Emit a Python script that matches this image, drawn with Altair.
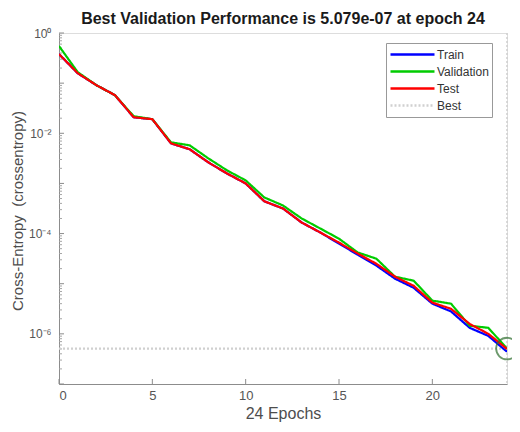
import altair as alt
import pandas as pd

epochs = list(range(25))
train = [0.38, 0.158, 0.0912, 0.0575, 0.0209, 0.0191, 6.3e-3, 4.8e-3, 2.63e-3, 1.58e-3,
         1.0e-3, 4.4e-4, 3.16e-4, 1.66e-4, 1.05e-4, 6.3e-5, 3.8e-5, 2.3e-5, 1.26e-5, 8.3e-6,
         4.0e-6, 2.8e-6, 1.32e-6, 9.1e-7, 4.4e-7]
validation = [0.55, 0.166, 0.0912, 0.0575, 0.0219, 0.0191, 6.6e-3, 5.75e-3, 3.16e-3, 1.82e-3,
              1.15e-3, 5.25e-4, 3.63e-4, 2.0e-4, 1.26e-4, 7.9e-5, 4.2e-5, 3.16e-5, 1.38e-5, 1.15e-5,
              4.6e-6, 4.0e-6, 1.45e-6, 1.32e-6, 5.079e-7]
test = [0.38, 0.158, 0.0912, 0.0575, 0.0209, 0.0191, 6.3e-3, 4.8e-3, 2.63e-3, 1.58e-3,
        1.0e-3, 4.4e-4, 3.16e-4, 1.66e-4, 1.05e-4, 6.6e-5, 4.0e-5, 2.5e-5, 1.38e-5, 9.1e-6,
        4.2e-6, 3.16e-6, 1.58e-6, 1.0e-6, 5.0e-7]
best_epoch = 24
best_value = 5.079e-07

series_names = ["Train", "Validation", "Test", "Best"]
series_colors = ["#0000FF", "#00CC00", "#FF0000", "#D0D0D0"]
series_dash = [[1, 0], [1, 0], [1, 0], [2, 2]]

x_ticks = [0, 5, 10, 15, 20]
y_major = [1e0, 1e-1, 1e-2, 1e-3, 1e-4, 1e-5, 1e-6, 1e-7]
y_minor = [k * m for m in y_major[1:] for k in range(2, 10)]
y_labels = [1e0, 1e-2, 1e-4, 1e-6]

W, H = 448, 351
FONT = "Liberation Sans"

rows = [{"epoch": best_epoch - 24, "value": best_value, "series": "Best"},
        {"epoch": best_epoch, "value": best_value, "series": "Best"}]
for name, vals in (("Train", train), ("Validation", validation), ("Test", test)):
    for e, v in zip(epochs, vals):
        rows.append({"epoch": e, "value": v, "series": name})
df = pd.DataFrame(rows)

xscale = alt.Scale(domain=[0, 24], nice=False, zero=False)
yscale = alt.Scale(type="log", domain=[1e-7, 1], nice=False)

x_axis = alt.Axis(values=x_ticks, title="24 Epochs", grid=False, ticks=False,
                  labelPadding=5, labelFontSize=13, labelColor="#555555",
                  domainColor="#8c8c8c", titleFontSize=16, titleFontWeight="normal",
                  titleColor="#4d4d4d", titleY=29, titleBaseline="middle",
                  labelFont=FONT, titleFont=FONT)
y_axis = alt.Axis(values=y_labels, title="Cross-Entropy\u00a0 (crossentropy)", grid=False,
                  ticks=False, labelPadding=8, labelFontSize=12, labelColor="#555555",
                  domainColor="#8c8c8c", titleFontSize=15, titleFontWeight="normal",
                  titleColor="#4d4d4d", titleX=-42, titleY=H / 2 + 2, titleBaseline="middle",
                  labelFont=FONT, titleFont=FONT,
                  labelExpr="'10' + (datum.value > 0.5 ? '⁰' : datum.value > 1e-3 ? '⁻²' : datum.value > 1e-5 ? '⁻⁴' : '⁻⁶')")

lines = alt.Chart(df).mark_line(strokeWidth=2.2, clip=True).encode(
    x=alt.X("epoch:Q", scale=xscale, axis=x_axis),
    y=alt.Y("value:Q", scale=yscale, axis=y_axis),
    color=alt.Color("series:N",
                    scale=alt.Scale(domain=series_names, range=series_colors),
                    legend=alt.Legend(title=None, orient="none", legendX=327, legendY=10,
                                      symbolType="stroke", symbolSize=1936,
                                      symbolStrokeWidth=2.5, labelFontSize=12,
                                      labelFont=FONT, labelColor="#333333",
                                      strokeColor="#999999", fillColor="white",
                                      padding=3, rowPadding=0, labelOffset=1,
                                      clipHeight=17)),
    strokeDash=alt.StrokeDash("series:N",
                              scale=alt.Scale(domain=series_names, range=series_dash),
                              legend=None),
    order=alt.Order("series:N"),
)

vline = alt.Chart(pd.DataFrame({"epoch": [best_epoch]})).mark_rule(
    color="#D0D0D0", strokeDash=[2, 2], strokeWidth=1.5).encode(
    x=alt.X("epoch:Q", scale=xscale))

circle = alt.Chart(pd.DataFrame({"epoch": [best_epoch], "value": [best_value]})).mark_point(
    shape="circle", size=470, filled=False, color="#2F6F2F", strokeWidth=1.8).encode(
    x=alt.X("epoch:Q", scale=xscale),
    y=alt.Y("value:Q", scale=yscale))

xt = alt.Chart(pd.DataFrame({"epoch": x_ticks})).mark_rule(color="#8c8c8c").encode(
    x=alt.X("epoch:Q", scale=xscale), y=alt.value(H), y2=alt.value(H - 5))
ymaj = alt.Chart(pd.DataFrame({"value": y_major})).mark_rule(color="#8c8c8c").encode(
    y=alt.Y("value:Q", scale=yscale), x=alt.value(0), x2=alt.value(5))
ymin = alt.Chart(pd.DataFrame({"value": y_minor})).mark_rule(color="#a6a6a6").encode(
    y=alt.Y("value:Q", scale=yscale), x=alt.value(0), x2=alt.value(3))

chart = alt.layer(vline, xt, ymaj, ymin, lines, circle).properties(
    width=W, height=H,
    title=alt.TitleParams("Best Validation Performance is 5.079e-07 at epoch 24",
                          fontSize=16, fontWeight="bold", font=FONT, color="#1a1a1a",
                          anchor="middle", offset=0),
    autosize=alt.AutoSizeParams(type="none"),
    padding={"left": 51, "top": 25, "right": 5, "bottom": 40},
).configure_view(stroke=None).configure(background="white")

chart.save("out.html", embed_options={"renderer": "svg", "actions": False})
